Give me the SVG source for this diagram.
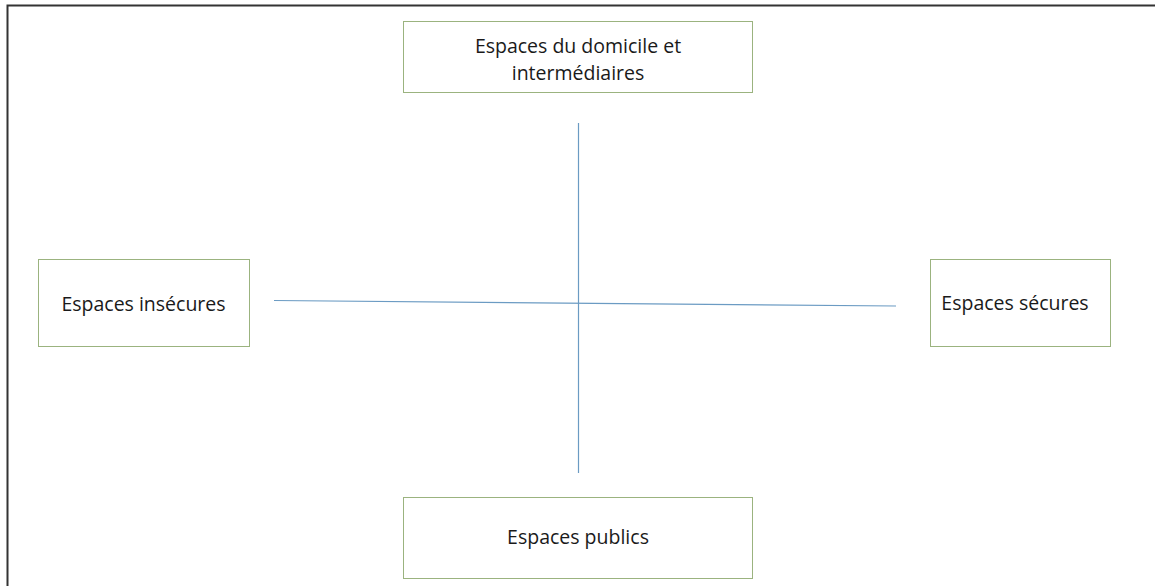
<svg xmlns="http://www.w3.org/2000/svg" width="1155" height="586" viewBox="0 0 1155 586">
<style>
.box{fill:#fff;stroke:#9bb37f;stroke-width:1}
.lbl{font-family:"Open Sans","Liberation Sans",sans-serif;font-size:19.5px;fill:#1a1a1a;text-anchor:middle}
.ax{stroke:#6b9bc3;stroke-width:1.2;fill:none}
.frame{stroke:#333;stroke-width:2;fill:none}
</style>
<rect width="1155" height="586" fill="#fff"/>
<path class="frame" d="M7.5,586 V5.5 H1155"/>
<g id="connectors">
<line class="ax" x1="578.5" y1="123" x2="578.5" y2="473"/>
<line class="ax" x1="274" y1="300.5" x2="896" y2="306"/>
</g>
<g id="node-top">
<rect class="box" x="403.5" y="21.5" width="349" height="71"/>
<text class="lbl" x="578" y="53">Espaces du domicile et</text>
<text class="lbl" x="578" y="80">intermédiaires</text>
</g>
<g id="node-left">
<rect class="box" x="38.5" y="259.5" width="211" height="87"/>
<text class="lbl" x="143.5" y="311">Espaces insécures</text>
</g>
<g id="node-right">
<rect class="box" x="930.5" y="259.5" width="180" height="87"/>
<text class="lbl" x="1015" y="310">Espaces sécures</text>
</g>
<g id="node-bottom">
<rect class="box" x="403.5" y="497.5" width="349" height="81"/>
<text class="lbl" x="578" y="544">Espaces publics</text>
</g>
</svg>
